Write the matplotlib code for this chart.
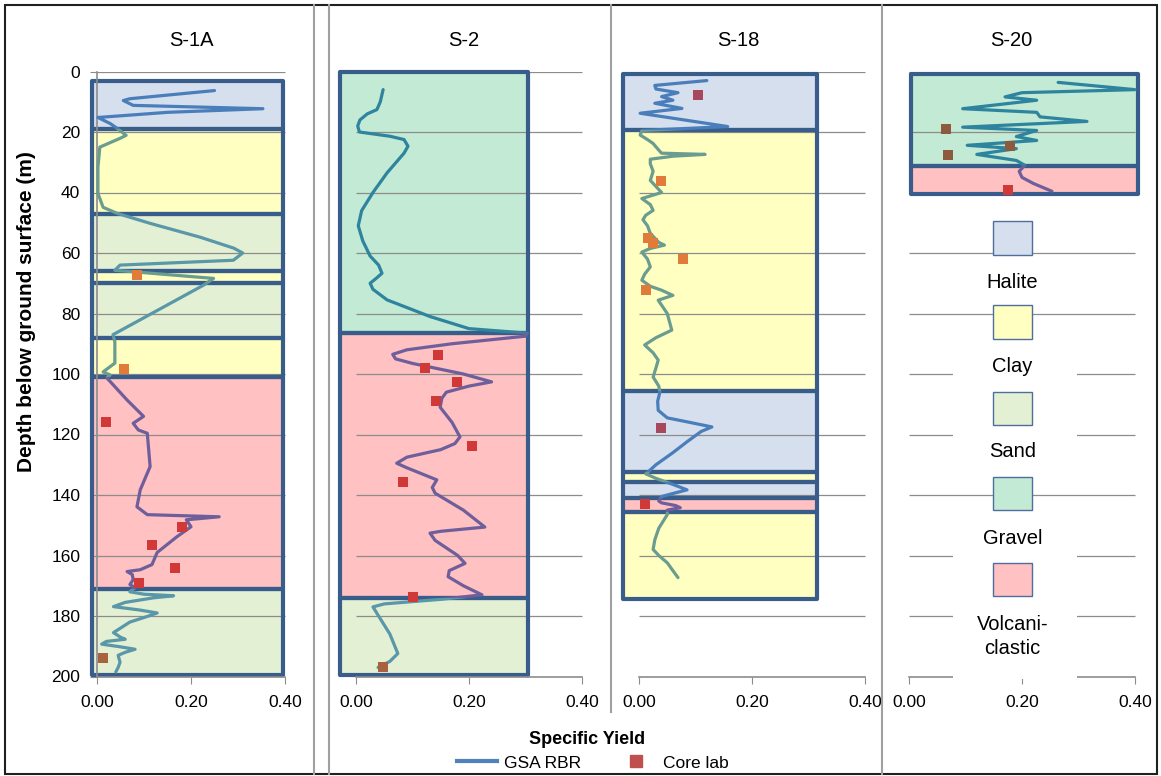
import numpy as np
import matplotlib
matplotlib.use('Agg')
import matplotlib.pyplot as plt
from matplotlib.patches import Rectangle
from matplotlib.lines import Line2D

plt.rcParams['font.family'] = ['Liberation Sans', 'DejaVu Sans']

# ---- data -------------------------------------------------------------
wells = ['S-1A', 'S-2', 'S-18', 'S-20']

# layers: (top, bottom, lithology)
s1a_layers = [(3, 19, 'Halite'), (19, 47, 'Clay'), (47, 66, 'Sand'), (66, 70, 'Clay'),
              (70, 88, 'Sand'), (88, 101, 'Clay'), (101, 171, 'Volcaniclastic'), (171, 199.5, 'Sand')]
s2_layers = [(0, 86.5, 'Gravel'), (86.5, 174, 'Volcaniclastic'), (174, 199.5, 'Sand')]
s18_layers = [(0.7, 19.5, 'Halite'), (19.5, 105.5, 'Clay'), (105.5, 132.5, 'Halite'),
              (132.5, 135.6, 'Clay'), (135.6, 141, 'Halite'), (141, 145.5, 'Volcaniclastic'),
              (145.5, 174.4, 'Clay')]
s20_layers = [(0.7, 31.4, 'Gravel'), (31.4, 40.6, 'Volcaniclastic')]

# GSA RBR specific yield profiles
s1a_depth = [6.3, 9, 9.6, 11.2, 12.3, 13.5, 15.2, 17.2, 18.8, 21.1, 22.1, 25, 31.6, 40.3, 44.9, 46.9,
             50.2, 54.8, 58.4, 60, 62.4, 64, 65.7, 68.4, 70.6, 87, 89.4, 96.4, 99.3, 100.3, 101.3,
             108.6, 114, 116.3, 118.5, 119.6, 130.6, 138.3, 143.9, 146.5, 147.2, 148.2, 150.5,
             153.8, 159, 163, 164.7, 165.3, 166.3, 168, 169.6, 170.6, 172, 172.8, 173.3, 174,
             175.5, 176.9, 178, 179, 180, 182, 185.5, 187, 187.7, 188.4, 189.3, 190.2, 191, 192,
             193, 195.3, 197, 198.5]
s1a_sy = [0.25, 0.07, 0.056, 0.077, 0.353, 0.15, 0.002, 0.028, 0.043, 0.062, 0.049, 0.006, 0.002,
          0.002, 0.013, 0.043, 0.113, 0.22, 0.291, 0.31, 0.29, 0.049, 0.038, 0.248, 0.227, 0.034,
          0.038, 0.038, 0.013, 0.028, 0.021, 0.064, 0.099, 0.077, 0.088, 0.107, 0.113, 0.092,
          0.085, 0.107, 0.26, 0.19, 0.2, 0.17, 0.128, 0.117, 0.092, 0.064, 0.075, 0.077, 0.07,
          0.081, 0.07, 0.1, 0.163, 0.12, 0.06, 0.035, 0.09, 0.128, 0.11, 0.07, 0.035, 0.05, 0.06,
          0.02, 0.01, 0.05, 0.081, 0.06, 0.045, 0.049, 0.045, 0.04]
s2_depth = [6, 10, 12.6, 14, 16, 18, 20, 21.4, 22.5, 24.7, 27, 33.5, 40, 46, 51, 56, 61, 64, 66.7,
            68.5, 70, 72, 75.5, 81, 85, 86.5, 87.5, 90, 92, 93.5, 95, 96.5, 100, 102.6, 104, 106,
            108, 111, 116, 120.8, 123, 125, 127.5, 129.5, 131, 135, 137.5, 139.4, 145, 150.6, 152,
            152.6, 155, 160, 162.6, 165, 167, 170, 173, 174.5, 176, 177, 180, 186, 192.4, 195, 197]
s2_sy = [0.048, 0.043, 0.037, 0.02, 0.007, 0.003, 0.006, 0.06, 0.085, 0.092, 0.085, 0.055, 0.03,
         0.01, 0.004, 0.012, 0.025, 0.04, 0.046, 0.035, 0.025, 0.03, 0.055, 0.131, 0.2, 0.303,
         0.3, 0.17, 0.09, 0.065, 0.07, 0.1, 0.19, 0.24, 0.2, 0.16, 0.152, 0.149, 0.17, 0.184,
         0.175, 0.15, 0.09, 0.072, 0.09, 0.143, 0.135, 0.14, 0.19, 0.228, 0.15, 0.131, 0.14,
         0.18, 0.193, 0.165, 0.163, 0.19, 0.223, 0.15, 0.05, 0.03, 0.04, 0.06, 0.074, 0.06, 0.039]
s18_depth = [3, 4.6, 5.8, 7, 8.3, 9.5, 10.5, 12.2, 13.8, 18.2, 19.5, 21, 22.5, 23.8, 26, 27, 27.4,
             28, 29, 30.5, 33, 36, 38, 40, 42, 44, 45.9, 47.5, 49, 51, 53.5, 56.5, 57.4, 58.5,
             59.7, 62, 64.6, 67, 69, 71, 72.3, 74, 75.6, 80, 85.5, 88, 90.4, 93, 95.4, 98, 101,
             104, 106, 109, 112, 114.5, 116, 117.5, 119, 122.4, 126, 130, 131.7, 133, 134.5,
             136.5, 138.3, 139.5, 140.5, 142, 142.6, 143.5, 144.2, 145, 146.5, 148, 151, 154.8,
             158, 160, 162.4, 165, 167.3]
s18_sy = [0.12, 0.028, 0.03, 0.069, 0.04, 0.06, 0.028, 0.076, 0.002, 0.157, 0.005, 0.002, 0.015,
          0.025, 0.035, 0.04, 0.117, 0.06, 0.02, 0.02, 0.025, 0.02, 0.03, 0.04, 0.005, 0.02,
          0.025, 0.012, 0.007, 0.015, 0.02, 0.035, 0.045, 0.02, 0.005, 0.015, 0.02, 0.01, 0.005,
          0.02, 0.04, 0.06, 0.034, 0.05, 0.058, 0.03, 0.01, 0.025, 0.034, 0.03, 0.025, 0.035,
          0.037, 0.033, 0.034, 0.05, 0.09, 0.129, 0.11, 0.085, 0.06, 0.03, 0.02, 0.012, 0.03,
          0.06, 0.085, 0.06, 0.04, 0.035, 0.04, 0.065, 0.073, 0.05, 0.05, 0.045, 0.035, 0.028,
          0.025, 0.035, 0.05, 0.06, 0.069]
s20_depth = [3.6, 6, 7, 8.4, 9.5, 12.3, 13.5, 15, 16.5, 18.4, 19.5, 21.5, 22.8, 24.4, 25.5, 27.4,
             29.4, 31, 33, 35, 37, 39.6]
s20_sy = [0.264, 0.40, 0.2, 0.17, 0.226, 0.095, 0.226, 0.232, 0.315, 0.095, 0.226, 0.19, 0.226,
          0.103, 0.19, 0.12, 0.19, 0.205, 0.195, 0.2, 0.22, 0.253]

# core lab measurements
s1a_core_depth = [67.4, 98.5, 116, 150.7, 156.4, 164, 169, 194]
s1a_core_sy = [0.085, 0.058, 0.019, 0.18, 0.117, 0.165, 0.09, 0.013]
s2_core_depth = [93.7, 98, 102.6, 109, 123.8, 135.7, 173.8, 197]
s2_core_sy = [0.145, 0.122, 0.179, 0.142, 0.205, 0.083, 0.101, 0.048]
s18_core_depth = [7.9, 36.3, 55, 56.7, 62, 72.3, 117.8, 143]
s18_core_sy = [0.104, 0.039, 0.016, 0.025, 0.078, 0.012, 0.039, 0.011]
s20_core_depth = [18.9, 27.7, 24.6, 39.3]
s20_core_sy = [0.065, 0.069, 0.179, 0.175]

lithologies = ['Halite', 'Clay', 'Sand', 'Gravel', 'Volcaniclastic']
lith_labels = ['Halite', 'Clay', 'Sand', 'Gravel', 'Volcani-\nclastic']

# ---- styles -----------------------------------------------------------
fill_colors = {'Halite': '#D5DFEE', 'Clay': '#FFFFC2', 'Sand': '#E3F0D4',
               'Gravel': '#C2EAD4', 'Volcaniclastic': '#FFC1C1'}
curve_colors = {'Halite': '#4A7EBB', 'Clay': '#6B9C90', 'Sand': '#5A97A8',
                'Gravel': '#2E849E', 'Volcaniclastic': '#6E5F9C'}
marker_colors = {'Halite': '#A8485E', 'Clay': '#E07B39', 'Sand': '#A8623F',
                 'Gravel': '#8E5A3E', 'Volcaniclastic': '#D13838'}
edge_color = '#385D8A'
grid_color = '#8C8C8C'

W, H = 1161, 776
fig = plt.figure(figsize=(W / 100, H / 100), dpi=100)
top_px, bot_px = 71.5, 676.5   # depth 0 and depth 200
xlo, xhi = -0.05, 0.43

# pixel position of x=0, pixels per unit, box extent, title x
layout = {'S-1A': (97, 470, (-0.01, 0.395), 191),
          'S-2': (356, 565, (-0.028, 0.305), 464),
          'S-18': (639, 565, (-0.028, 0.315), 738),
          'S-20': (909, 565, (0.004, 0.405), 1011)}

well_data = {'S-1A': (s1a_layers, s1a_depth, s1a_sy, s1a_core_depth, s1a_core_sy),
             'S-2': (s2_layers, s2_depth, s2_sy, s2_core_depth, s2_core_sy),
             'S-18': (s18_layers, s18_depth, s18_sy, s18_core_depth, s18_core_sy),
             'S-20': (s20_layers, s20_depth, s20_sy, s20_core_depth, s20_core_sy)}


def layer_at(layers, d):
    for top, bot, kind in layers:
        if top <= d <= bot:
            return kind
    return layers[-1][2]


for name in wells:
    zero_px, scale, box_x, title_x = layout[name]
    layers, depth, sy, core_d, core_sy = well_data[name]
    left = zero_px + xlo * scale
    right = zero_px + xhi * scale
    ax = fig.add_axes([left / W, 1 - bot_px / H, (right - left) / W, (bot_px - top_px) / H])
    ax.set_xlim(xlo, xhi)
    ax.set_ylim(200, 0)
    ax.patch.set_alpha(0)

    # layer fills and outlines
    for top, bot, kind in layers:
        ax.add_patch(Rectangle((box_x[0], top), box_x[1] - box_x[0], bot - top,
                               facecolor=fill_colors[kind], edgecolor='none', zorder=1, clip_on=False))
        ax.add_patch(Rectangle((box_x[0], top), box_x[1] - box_x[0], bot - top,
                               facecolor='none', edgecolor=edge_color, lw=3, zorder=2.5,
                               clip_on=False, joinstyle='round'))
        # curve coloured by layer
        line, = ax.plot(sy, depth, color=curve_colors[kind], lw=2.3, zorder=3,
                        solid_joinstyle='round', solid_capstyle='round')
        line.set_clip_path(Rectangle((-1, top), 2, bot - top, transform=ax.transData))

    # grid
    ax.hlines(np.arange(0, 200, 20), 0, 0.4, colors=grid_color, lw=0.9, zorder=1.5)

    # core lab points
    for d, v in zip(core_d, core_sy):
        ax.plot(v, d, 's', color=marker_colors[layer_at(layers, d)], ms=7.5, mew=0,
                zorder=4, clip_on=False)

    # axes
    for s in ['top', 'right']:
        ax.spines[s].set_visible(False)
    ax.spines['bottom'].set_bounds(0, 0.4)
    ax.spines['bottom'].set_color(grid_color)
    ax.spines['bottom'].set_linewidth(1.2)
    ax.set_xticks([0, 0.2, 0.4])
    ax.set_xticklabels(['0.00', '0.20', '0.40'])
    ax.tick_params(axis='x', direction='out', length=5, color=grid_color, labelsize=12.5, pad=8)
    if name == 'S-1A':
        ax.spines['left'].set_position(('data', 0))
        ax.spines['left'].set_bounds(0, 200)
        ax.spines['left'].set_color(grid_color)
        ax.spines['left'].set_linewidth(1.2)
        ax.set_yticks(np.arange(0, 201, 20))
        ax.tick_params(axis='y', direction='out', length=5, color=grid_color, labelsize=12.5, pad=7)
    else:
        ax.spines['left'].set_visible(False)
        ax.set_yticks([])

    fig.text(title_x / W, 1 - 40 / H, name, ha='center', va='center', fontsize=14.5)

    # lithology key in the S-20 column
    if name == 'S-20':
        key_sq = [55, 82.8, 111.5, 139.6, 168]
        key_txt = [69.6, 97.6, 125.7, 154.5, 186.8]
        for kind, lab, ds, dt in zip(lithologies, lith_labels, key_sq, key_txt):
            hh = 28 if '\n' in lab else 16
            ax.add_patch(Rectangle((0.078, dt - hh / 2), 0.219, hh, facecolor='white',
                                   edgecolor='none', zorder=3, clip_on=False))
            ax.add_patch(Rectangle((0.148, ds - 5.5), 0.07, 11, facecolor=fill_colors[kind],
                                   edgecolor='#4F6E9E', lw=1, zorder=4, clip_on=False))
            ax.text(0.183, dt, lab, ha='center', va='center', fontsize=14.5, zorder=5,
                    linespacing=1.3)

# y label
fig.text(27 / W, 1 - 312 / H, 'Depth below ground surface (m)', rotation=90,
         ha='center', va='center', fontsize=15, fontweight='bold')

# x label and legend
fig.text(587 / W, 1 - 739 / H, 'Specific Yield', ha='center', va='center',
         fontsize=13, fontweight='bold')
handles = [Line2D([], [], color='#4F81BD', lw=3),
           Line2D([], [], marker='s', color='#C0504D', ls='none', ms=8)]
fig.legend(handles, ['GSA RBR', 'Core lab'], loc='center', bbox_to_anchor=(593 / W, 1 - 763 / H),
           ncol=2, frameon=False, fontsize=12.5, handlelength=2.3, columnspacing=2.0,
           handletextpad=0.4, borderpad=0)

# panel separators and outer frame
for xs, yb in [(314, 774), (329, 774), (611, 712), (882, 774)]:
    fig.add_artist(Line2D([xs / W, xs / W], [1 - 5 / H, 1 - yb / H], color='#A0A0A0', lw=1.5))
fig.add_artist(Rectangle((5 / W, 1 - 774 / H), 1152 / W, 769 / H, transform=fig.transFigure,
                         fill=False, edgecolor='#202020', lw=1.5))

fig.savefig('out.png', dpi=100)
